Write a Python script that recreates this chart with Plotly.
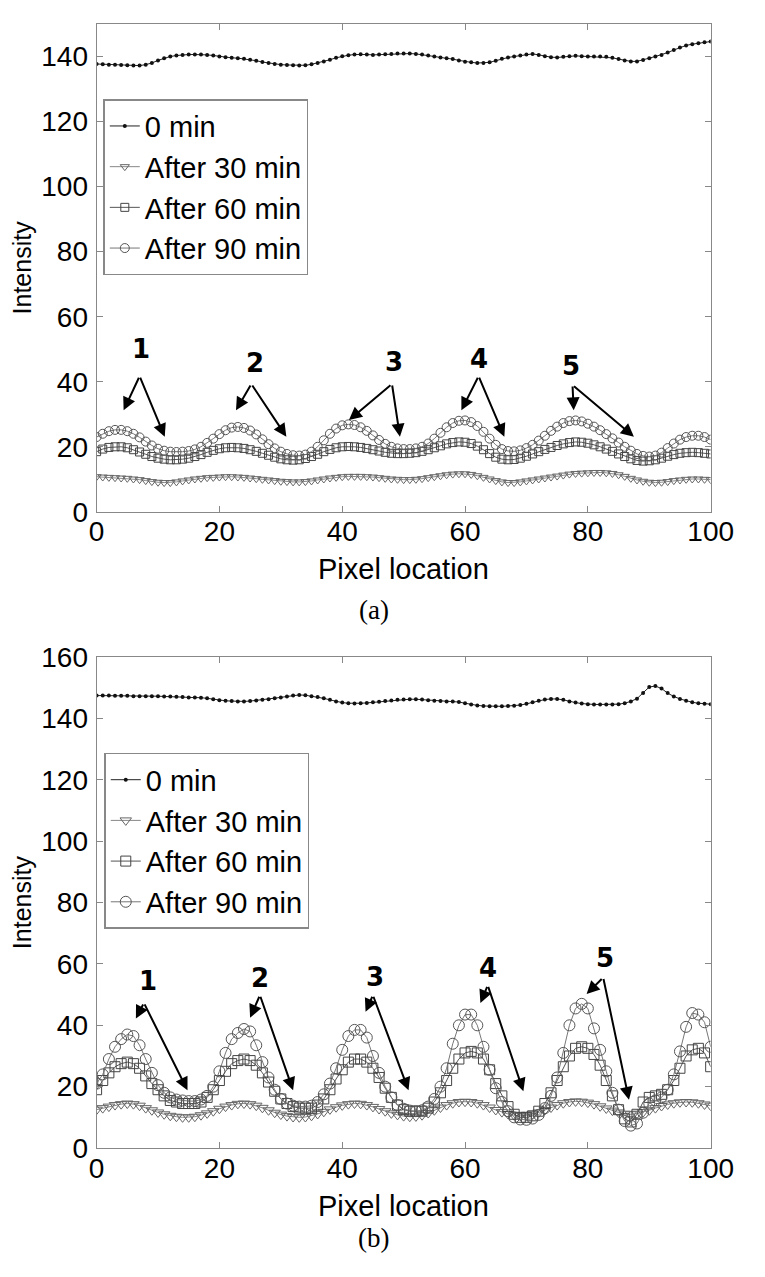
import plotly.graph_objects as go

pixel = list(range(101))

# ---------------- Panel (a) ----------------
a_0min = [137.7, 137.6, 137.5, 137.5, 137.4, 137.3, 137.2, 137.2, 137.5, 138.0,
          138.8, 139.5, 140.0, 140.3, 140.5, 140.6, 140.6, 140.6, 140.5, 140.3,
          140.0, 139.8, 139.6, 139.5, 139.3, 139.0, 138.7, 138.3, 138.0, 137.7,
          137.5, 137.4, 137.3, 137.2, 137.3, 137.6, 138.0, 138.5, 139.0, 139.6,
          140.1, 140.4, 140.6, 140.7, 140.6, 140.5, 140.6, 140.7, 140.8, 140.9,
          140.9, 140.9, 140.8, 140.6, 140.3, 140.0, 139.7, 139.5, 139.2, 138.8,
          138.4, 138.2, 138.0, 138.0, 138.2, 138.7, 139.3, 139.7, 140.0, 140.3,
          140.6, 140.8, 140.5, 140.1, 139.8, 139.7, 139.9, 140.1, 140.2, 140.1,
          140.0, 140.0, 140.0, 139.9, 139.6, 139.2, 138.8, 138.5, 138.5, 138.9,
          139.5, 140.0, 140.5, 141.2, 142.0, 142.8, 143.4, 143.8, 144.1, 144.4,
          144.6]
a_30min = [10.8, 10.7, 10.6, 10.5, 10.4, 10.3, 10.1, 9.9, 9.6, 9.3,
           9.1, 9.0, 9.0, 9.2, 9.5, 9.8, 10.1, 10.3, 10.5, 10.6,
           10.7, 10.8, 10.8, 10.7, 10.6, 10.4, 10.2, 10.0, 9.8, 9.6,
           9.4, 9.3, 9.2, 9.2, 9.3, 9.5, 9.8, 10.1, 10.4, 10.6,
           10.8, 10.9, 10.9, 10.9, 10.8, 10.7, 10.5, 10.3, 10.1, 10.0,
           9.9, 9.9, 10.0, 10.2, 10.5, 10.8, 11.1, 11.4, 11.6, 11.7,
           11.7, 11.5, 11.1, 10.6, 10.1, 9.6, 9.2, 9.0, 9.0, 9.2,
           9.5, 9.8, 10.1, 10.4, 10.7, 11.0, 11.3, 11.6, 11.8, 11.9,
           12.0, 12.1, 12.1, 12.0, 11.8, 11.4, 10.9, 10.3, 9.8, 9.4,
           9.1, 9.0, 9.1, 9.3, 9.6, 9.8, 10.0, 10.1, 10.1, 10.0,
           9.9]
a_60min = [18.5, 19.3, 19.8, 20.0, 20.0, 19.7, 19.1, 18.4, 17.7, 17.0,
           16.5, 16.2, 16.0, 16.0, 16.2, 16.5, 17.0, 17.6, 18.3, 18.9,
           19.4, 19.7, 19.8, 19.7, 19.5, 19.1, 18.6, 18.0, 17.4, 16.8,
           16.3, 16.0, 15.9, 16.0, 16.4, 17.0, 17.7, 18.5, 19.2, 19.7,
           20.0, 20.1, 20.0, 19.8, 19.5, 19.1, 18.7, 18.3, 18.0, 17.9,
           17.9, 18.0, 18.2, 18.6, 19.1, 19.7, 20.3, 20.9, 21.3, 21.5,
           21.4, 21.0, 20.2, 19.1, 17.9, 16.8, 16.2, 16.0, 16.1, 16.5,
           17.1, 17.8, 18.5, 19.2, 19.8, 20.4, 20.9, 21.3, 21.5, 21.4,
           21.1, 20.6, 20.0, 19.3, 18.6, 17.8, 17.0, 16.3, 15.8, 15.6,
           15.7, 16.0, 16.5, 17.1, 17.6, 18.0, 18.2, 18.3, 18.2, 18.0,
           17.8]
a_90min = [23.0, 24.0, 24.8, 25.2, 25.2, 24.8, 24.0, 22.9, 21.6, 20.4,
           19.4, 18.8, 18.5, 18.4, 18.5, 18.7, 19.2, 20.0, 21.2, 22.5,
           23.9, 25.1, 25.9, 26.1, 25.8, 25.0, 23.8, 22.3, 20.8, 19.5,
           18.5, 17.8, 17.4, 17.3, 17.6, 18.5, 20.0, 22.0, 24.0, 25.6,
           26.6, 26.9, 26.7, 26.0, 24.9, 23.5, 22.1, 20.9, 20.0, 19.5,
           19.3, 19.3, 19.5, 20.0, 21.0, 22.5, 24.3, 26.0, 27.3, 28.0,
           28.1, 27.6, 26.4, 24.6, 22.5, 20.6, 19.3, 18.7, 18.6, 18.9,
           19.6, 20.6, 21.9, 23.4, 24.9, 26.2, 27.3, 27.9, 28.1, 27.8,
           27.1, 26.2, 25.1, 23.9, 22.6, 21.3, 20.0, 18.8, 17.8, 17.2,
           17.0, 17.3, 18.2, 19.6, 21.0, 22.2, 23.0, 23.4, 23.4, 23.0,
           22.2]

# ---------------- Panel (b) ----------------
b_0min = [147.5, 147.5, 147.5, 147.4, 147.4, 147.4, 147.3, 147.3, 147.3, 147.3,
          147.3, 147.2, 147.2, 147.1, 147.0, 146.9, 146.9, 146.8, 146.6, 146.3,
          146.0, 145.8, 145.7, 145.6, 145.6, 145.7, 145.9, 146.1, 146.3, 146.6,
          146.9, 147.2, 147.5, 147.7, 147.6, 147.3, 147.0, 146.6, 146.1, 145.6,
          145.2, 145.0, 144.9, 145.0, 145.1, 145.3, 145.5, 145.7, 145.9, 146.1,
          146.2, 146.3, 146.3, 146.2, 146.0, 145.8, 145.7, 145.6, 145.6, 145.4,
          145.0, 144.6, 144.3, 144.1, 144.0, 144.0, 144.0, 144.1, 144.2, 144.4,
          144.8, 145.3, 145.8, 146.2, 146.4, 146.4, 146.1, 145.6, 145.2, 144.9,
          144.7, 144.6, 144.6, 144.6, 144.6, 144.7, 145.0, 145.6, 146.5, 148.3,
          150.3, 150.6, 149.8, 148.3, 147.2, 146.4, 145.8, 145.3, 145.0, 144.8,
          144.7]
b_30min = [12.5, 13.0, 13.5, 14.0, 14.3, 14.5, 14.3, 13.8, 13.0, 12.3,
           11.6, 11.0, 10.5, 10.2, 10.0, 10.0, 10.2, 10.7, 11.3, 12.0,
           12.8, 13.5, 14.0, 14.4, 14.5, 14.3, 13.8, 13.1, 12.3, 11.5,
           10.9, 10.4, 10.1, 10.0, 10.1, 10.5, 11.1, 11.8, 12.6, 13.3,
           13.9, 14.3, 14.5, 14.4, 14.0, 13.4, 12.7, 12.0, 11.3, 10.8,
           10.4, 10.2, 10.3, 10.7, 11.4, 12.3, 13.2, 14.0, 14.6, 15.0,
           15.1, 15.0, 14.6, 14.0, 13.2, 12.4, 11.7, 11.1, 10.7, 10.5,
           10.6, 11.0, 11.6, 12.4, 13.2, 14.0, 14.6, 15.0, 15.2, 15.1,
           14.8, 14.3, 13.6, 12.9, 12.2, 11.6, 11.2, 11.0, 11.2, 11.7,
           12.3, 13.0, 13.7, 14.2, 14.6, 14.9, 15.0, 14.9, 14.6, 14.2,
           13.8]
b_60min = [19.0, 22.0, 24.5, 26.5, 27.5, 28.0, 27.5, 26.0, 23.5, 21.0,
           19.0, 17.0, 15.5, 15.0, 14.5, 14.5, 14.5, 15.0, 16.5, 19.0,
           22.0, 25.0, 27.5, 28.5, 29.0, 28.5, 27.0, 24.5, 21.5, 18.5,
           16.0, 14.5, 13.5, 13.0, 13.0, 13.0, 14.0, 16.0, 19.0, 22.5,
           25.5, 28.0, 29.0, 29.0, 28.0, 26.0, 23.0, 19.5, 16.5, 14.0,
           12.5, 12.0, 12.0, 12.0, 13.0, 15.0, 18.0, 22.0, 26.0, 29.0,
           31.0, 31.5, 31.0, 29.0, 25.5, 21.0, 17.0, 13.5, 11.0, 10.0,
           10.0, 10.5, 12.0, 14.5, 18.0, 22.0, 26.5, 30.0, 32.5, 33.0,
           32.5, 30.5, 27.0, 22.0, 17.0, 12.5, 9.5, 8.5, 11.0, 15.0,
           16.5, 17.0, 17.5, 19.0, 22.0, 26.0, 30.0, 32.0, 32.5, 31.0,
           26.5]
b_90min = [21.0, 24.0, 29.0, 33.0, 35.5, 37.0, 36.5, 33.5, 29.0, 24.5,
           20.5, 18.0, 16.5, 15.8, 15.5, 15.3, 15.3, 15.8, 17.0, 20.0,
           25.0, 31.0, 35.5, 37.5, 38.8, 38.0, 33.5, 28.0, 23.0, 19.0,
           16.0, 14.5, 13.8, 13.5, 13.5, 13.8, 15.0, 17.5, 21.0, 26.0,
           32.0, 36.5, 38.5, 38.5, 36.0, 30.0, 24.5, 20.0, 16.5, 14.0,
           12.8, 12.2, 12.0, 12.3, 13.5, 16.0, 20.0, 26.0, 34.0, 40.0,
           43.5, 43.5, 40.0, 33.0, 25.5, 19.5, 15.0, 12.0, 10.0, 9.3,
           9.2, 9.6, 10.8, 13.0, 17.0, 23.0, 31.0, 40.0, 45.5, 47.0,
           45.5, 39.0, 32.0, 25.0, 18.0, 12.5, 8.8, 7.3, 8.0, 11.5,
           14.5, 15.5, 16.5, 19.0, 24.0, 31.5, 39.5, 44.0, 43.5, 41.0,
           33.0]

series_names = ["0 min", "After 30 min", "After 60 min", "After 90 min"]
x_ticks = [0, 20, 40, 60, 80, 100]
a_y_ticks = [0, 20, 40, 60, 80, 100, 120, 140]
b_y_ticks = [0, 20, 40, 60, 80, 100, 120, 140, 160]

# annotation labels: (label, label_x, label_y, tail_x, tail_y, [(head_x, head_y), ...])
a_labels = [
    ("1", 7.2, 50.0, 7.0, 41.7, [(4.4, 31.2), (11.1, 23.1)]),
    ("2", 25.8, 45.8, 25.2, 39.3, [(22.7, 31.2), (30.9, 23.1)]),
    ("3", 48.4, 46.2, 48.1, 39.3, [(41.1, 28.2), (49.4, 23.1)]),
    ("4", 62.2, 47.1, 62.2, 41.7, [(59.4, 31.2), (66.4, 23.1)]),
    ("5", 77.3, 44.7, 77.5, 39.0, [(77.7, 31.2), (87.5, 23.1)]),
]
b_labels = [
    ("1", 8.3, 54.6, 7.7, 47.3, [(6.4, 42.2), (14.8, 18.8)]),
    ("2", 26.6, 55.3, 26.6, 49.8, [(25.0, 42.5), (32.0, 18.8)]),
    ("3", 45.3, 55.6, 45.0, 49.8, [(43.8, 44.4), (50.8, 18.8)]),
    ("4", 63.7, 58.8, 63.7, 53.0, [(62.5, 47.3), (69.5, 18.5)]),
    ("5", 82.8, 62.0, 82.5, 55.6, [(79.8, 50.2), (86.7, 15.7)]),
]

W, H = 765, 1277
OFF = 8  # page body margin: screen position = figure position + 8 px

def px(sx):
    return (sx - OFF) / W

def py(sy):
    return 1 - (sy - OFF) / H

styles = [
    dict(marker=dict(symbol="circle", size=4, color="#111111"), line=dict(color="#222222", width=1)),
    dict(marker=dict(symbol="triangle-down-open", size=8, color="#666666", line=dict(width=1)), line=dict(color="#888888", width=1)),
    dict(marker=dict(symbol="square-open", size=8, color="#444444", line=dict(width=1)), line=dict(color="#555555", width=1)),
    dict(marker=dict(symbol="circle-open", size=9, color="#555555", line=dict(width=1)), line=dict(color="#777777", width=1)),
]

fig = go.Figure()
panels = [
    ("x", "y", "legend", [a_0min, a_30min, a_60min, a_90min]),
    ("x2", "y2", "legend2", [b_0min, b_30min, b_60min, b_90min]),
]
for xa, ya, lg, data in panels:
    for name, vals, st in zip(series_names, data, styles):
        mk = dict(st["marker"])
        if xa == "x2" and name != "0 min":
            mk["size"] = mk["size"] + 2
        fig.add_trace(go.Scatter(x=pixel, y=vals, name=name, mode="lines+markers",
                                 marker=mk, line=st["line"], xaxis=xa, yaxis=ya,
                                 legend=lg))

FONT = "Liberation Sans, Arial, sans-serif"
axis_common = dict(showline=True, linecolor="#888888", linewidth=1, mirror="ticks",
                   ticks="inside", ticklen=6, tickcolor="#888888", showgrid=False,
                   zeroline=False, tickfont=dict(family=FONT, size=28, color="black"))
ytitle = dict(text="Intensity", font=dict(family=FONT, size=25, color="black"), standoff=6)

xdom = [px(92), px(732)]
fig.update_layout(
    width=W, height=H, margin=dict(l=0, r=0, t=0, b=0),
    paper_bgcolor="white", plot_bgcolor="white",
    xaxis=dict(domain=xdom, range=[0, 100], tickvals=x_ticks, anchor="y",
               ticklabelstandoff=-5, **axis_common),
    yaxis=dict(domain=[py(509), py(9)], range=[0, 150], tickvals=a_y_ticks, anchor="x",
               ticklabelstandoff=2, title=ytitle, **axis_common),
    xaxis2=dict(domain=xdom, range=[0, 100], tickvals=x_ticks, anchor="y2",
                ticklabelstandoff=-5, **axis_common),
    yaxis2=dict(domain=[py(1161), py(658)], range=[0, 160], tickvals=b_y_ticks, anchor="x2",
                ticklabelstandoff=2, title=ytitle, **axis_common),
    legend=dict(x=px(99), y=py(86), xanchor="left", yanchor="top",
                bordercolor="#888888", borderwidth=1.5, bgcolor="white",
                font=dict(family=FONT, size=29, color="black"), itemwidth=30,
                tracegroupgap=0),
    legend2=dict(x=px(100), y=py(756), xanchor="left", yanchor="top",
                 bordercolor="#888888", borderwidth=1.5, bgcolor="white",
                 font=dict(family=FONT, size=29, color="black"), itemwidth=30,
                 tracegroupgap=0),
)

annots = []
for xr, yr, labels in [("x", "y", a_labels), ("x2", "y2", b_labels)]:
    for lab, lx, ly, tx, ty, heads in labels:
        annots.append(dict(x=lx, y=ly, xref=xr, yref=yr, text="<b>%s</b>" % lab,
                           xanchor="center", yanchor="middle",
                           showarrow=False, font=dict(family="DejaVu Sans", size=26, color="black")))
        for hx, hy in heads:
            annots.append(dict(x=hx, y=hy, ax=tx, ay=ty, xref=xr, yref=yr, axref=xr, ayref=yr,
                               text="", showarrow=True, arrowhead=2, arrowsize=1.3,
                               arrowwidth=2, arrowcolor="black"))

# x-axis titles and panel captions (screen pixel positions)
for bot, cap, capy in [(509, "(a)", 610), (1161, "(b)", 1253)]:
    annots.append(dict(x=px(412), y=py(bot + 59), xref="paper", yref="paper",
                       xanchor="center", yanchor="middle",
                       text="Pixel location", showarrow=False,
                       font=dict(family=FONT, size=29, color="black")))
    annots.append(dict(x=px(381), y=py(capy), xref="paper", yref="paper",
                       xanchor="center", yanchor="middle",
                       text=cap, showarrow=False,
                       font=dict(family="Liberation Serif, Times New Roman, serif", size=27, color="black")))

fig.update_layout(annotations=annots)
fig.write_html("out.html")
